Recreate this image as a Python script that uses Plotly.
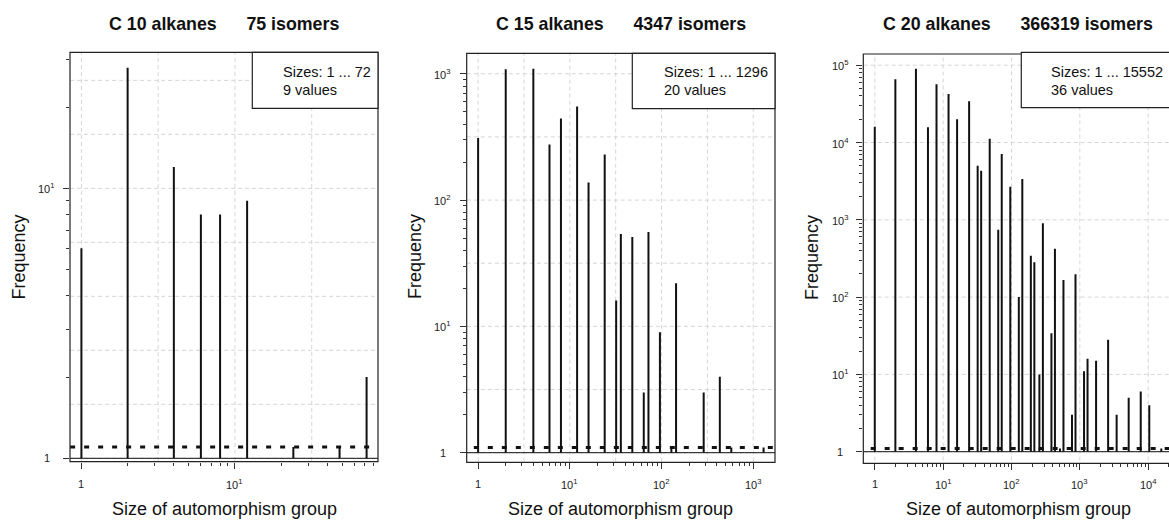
import math
import plotly.graph_objects as go

# ---------------- data ----------------
C10_SIZES = [1, 2, 4, 6, 8, 12, 24, 48, 72]
C10_FREQ = [6, 28, 12, 8, 8, 9, 1, 1, 2]

C15_SIZES = [1, 2, 4, 6, 8, 12, 16, 24, 32, 36, 48, 64, 72, 96, 128, 144, 288, 432, 576, 1296]
C15_FREQ = [310, 1084, 1096, 276, 442, 550, 138, 230, 16, 54, 51, 3, 56, 9, 1, 22, 3, 4, 1, 1]

C20_SIZES = [1, 2, 4, 6, 8, 12, 16, 24, 32, 36, 48, 64, 72, 96, 128, 144, 192, 216, 256, 288,
             384, 432, 512, 576, 768, 864, 1152, 1296, 1728, 2592, 3456, 5184, 7776, 10368, 15552]
C20_FREQ = [16000, 65700, 90100, 15700, 56600, 42400, 19950, 34100, 5010, 4320, 11200, 745, 7100,
            2680, 100, 3370, 343, 282, 10, 901, 34, 423, 1, 166, 3, 197, 11, 16, 15, 28, 3, 5, 6, 4, 1]

TITLES_LEFT = ["C 10 alkanes", "C 15 alkanes", "C 20 alkanes"]
TITLES_RIGHT = ["75 isomers", "4347 isomers", "366319 isomers"]
LEGEND_LINE1 = ["Sizes: 1 ... 72", "Sizes: 1 ... 1296", "Sizes: 1 ... 15552"]
LEGEND_LINE2 = ["9 values", "20 values", "36 values"]
XLABEL = "Size of automorphism group"
YLABEL = "Frequency"
BASELINE = 1.0
REFLINE = 1.1

W, H = 1169, 520
FONT = "Liberation Sans, Arial, sans-serif"

def px(x):
    return x / W

def py(y):
    return (H - y) / H

panels = [
    dict(sizes=C10_SIZES, freq=C10_FREQ, box=(70, 378, 52.3, 461.7),
         xr=(-0.0743, 1.9316), yr=(-0.0126, 1.504), ydec=(0, 1), xdec=(0, 1),
         xgrid=0.5, ygrid=0.2, ylab_x=18.5, ylab_y=257, ytl_x=46.5),
    dict(sizes=C15_SIZES, freq=C15_FREQ, box=(466.7, 775, 53.3, 462.3),
         xr=(-0.1245, 3.237), yr=(-0.076, 3.162), ydec=(0, 3), xdec=(0, 3),
         xgrid=0.5, ygrid=0.5, ylab_x=415, ylab_y=257, ytl_x=442.5),
    dict(sizes=C20_SIZES, freq=C20_FREQ, box=(863.3, 1172.8, 54, 463.3),
         xr=(-0.168, 4.36), yr=(-0.15, 5.145), ydec=(0, 5), xdec=(0, 4),
         xgrid=1.0, ygrid=1.0, ylab_x=812, ylab_y=258, ytl_x=840),
]

fig = go.Figure()
layout = dict(width=W, height=H, margin=dict(l=0, r=0, t=0, b=0),
              paper_bgcolor="white", plot_bgcolor="white", showlegend=False,
              font=dict(family=FONT, color="#111"))
shapes = []
annotations = []
TICKFONT = dict(size=11, color="#222", family=FONT)

def ticktext(d):
    return "1" if d == 0 else "10<sup>%d</sup>" % d

def minor_vals(lo, hi):
    vals = []
    for d in range(0, int(math.ceil(hi)) + 1):
        for m in range(2, 10):
            v = m * 10 ** d
            if lo <= math.log10(v) <= hi:
                vals.append(v)
    return vals

def grid_vals(lo, hi, step):
    vals = []
    k = math.ceil(lo / step - 1e-9)
    while k * step <= hi + 1e-9:
        vals.append(10 ** (k * step))
        k += 1
    return vals

NBSP = "\u00a0"

for i, p in enumerate(panels):
    n = "" if i == 0 else str(i + 1)
    xa, ya = "x" + n, "y" + n
    L, R, T, B = p["box"]
    xr0, xr1 = p["xr"]
    Rvis = min(R, W)
    xr1_vis = xr0 + (xr1 - xr0) * (Rvis - L) / (R - L)
    xdom = [px(L), px(Rvis)]
    ydom = [py(B), py(T)]

    # dashed light-grey grid
    gx, gy = [], []
    for v in grid_vals(xr0, xr1_vis, p["xgrid"]):
        gx += [v, v, None]
        gy += [1e-6, 1e9, None]
    for v in grid_vals(p["yr"][0], p["yr"][1], p["ygrid"]):
        gx += [1e-6, 1e9, None]
        gy += [v, v, None]
    fig.add_trace(go.Scatter(x=gx, y=gy, mode="lines", xaxis=xa, yaxis=ya,
                             line=dict(color="#d6d6d6", width=1, dash="4px,3px"),
                             hoverinfo="skip"))

    # reference lines
    fig.add_trace(go.Scatter(x=[1e-6, 1e9], y=[BASELINE, BASELINE], mode="lines",
                             xaxis=xa, yaxis=ya, line=dict(color="#111", width=1),
                             hoverinfo="skip"))
    fig.add_trace(go.Scatter(x=[1e-6, 1e9], y=[REFLINE, REFLINE], mode="lines",
                             xaxis=xa, yaxis=ya,
                             line=dict(color="#111", width=3, dash="5px,9px"),
                             hoverinfo="skip"))

    # spikes (R type = "h")
    sx, sy = [], []
    for s, f in zip(p["sizes"], p["freq"]):
        sx += [s, s, None]
        sy += [BASELINE, max(f, REFLINE), None]
    fig.add_trace(go.Scatter(x=sx, y=sy, mode="lines", xaxis=xa, yaxis=ya,
                             line=dict(color="#111", width=2), hoverinfo="skip"))

    xd = list(range(p["xdec"][0], p["xdec"][1] + 1))
    yd = list(range(p["ydec"][0], p["ydec"][1] + 1))
    axcommon = dict(type="log", showgrid=False, zeroline=False, showline=False,
                    ticks="outside", ticklen=6, tickwidth=1, tickcolor="#333",
                    showticklabels=False)
    layout["xaxis" + n] = dict(axcommon, domain=xdom, anchor=ya, range=[xr0, xr1_vis],
                               tickmode="array", tickvals=[10 ** d for d in xd],
                               minor=dict(tickmode="array", tickvals=minor_vals(xr0, xr1_vis),
                                          ticks="outside", ticklen=3, tickcolor="#333",
                                          showgrid=False))
    layout["yaxis" + n] = dict(axcommon, domain=ydom, anchor=xa, range=list(p["yr"]),
                               tickmode="array", tickvals=[10 ** d for d in yd],
                               minor=dict(tickmode="array", tickvals=minor_vals(*p["yr"]),
                                          ticks="outside", ticklen=3, tickcolor="#333",
                                          showgrid=False))

    # tick labels (R style: centred, horizontal)
    for d in xd:
        annotations.append(dict(xref=xa, yref="paper", x=d, y=py(483.5),
                                text=ticktext(d), showarrow=False, xanchor="center",
                                yanchor="middle", font=TICKFONT))
    for d in yd:
        annotations.append(dict(xref="paper", yref=ya, x=px(p["ytl_x"]), y=d,
                                text=ticktext(d), showarrow=False, xanchor="center",
                                yanchor="middle", font=TICKFONT))

    # plot frame
    shapes.append(dict(type="rect", xref="paper", yref="paper", x0=px(L), x1=px(R),
                       y0=py(B), y1=py(T), line=dict(color="#222", width=1.2),
                       fillcolor="rgba(0,0,0,0)", layer="above"))
    # legend box
    lg_left = [252.3, 632.3, 1021.3][i]
    lg_top = [52.3, 53.3, 52.3][i]
    lg_bot = [108.3, 108.7, 107.7][i]
    shapes.append(dict(type="rect", xref="paper", yref="paper", x0=px(lg_left), x1=px(R),
                       y0=py(lg_bot), y1=py(lg_top), line=dict(color="#222", width=1.2),
                       fillcolor="white", layer="above"))
    txt_x = [281, 661.7, 1049][i]
    annotations.append(dict(xref="paper", yref="paper", x=px(txt_x), y=py(72),
                            text=LEGEND_LINE1[i], showarrow=False, xanchor="left",
                            yanchor="middle", font=dict(size=14.5, color="#111")))
    annotations.append(dict(xref="paper", yref="paper", x=px(txt_x), y=py(90),
                            text=LEGEND_LINE2[i], showarrow=False, xanchor="left",
                            yanchor="middle", font=dict(size=14.5, color="#111")))
    # title, centred over the frame
    cx = (L + R) / 2
    annotations.append(dict(xref="paper", yref="paper", x=px(cx), y=py(24),
                            text="<b>%s%s%s</b>" % (TITLES_LEFT[i], NBSP * 6, TITLES_RIGHT[i]),
                            showarrow=False, xanchor="center", yanchor="middle",
                            font=dict(size=17.8, color="#111")))
    # axis titles
    annotations.append(dict(xref="paper", yref="paper", x=px(cx), y=py(509),
                            text=XLABEL, showarrow=False, xanchor="center",
                            yanchor="middle", font=dict(size=18, color="#111")))
    annotations.append(dict(xref="paper", yref="paper", x=px(p["ylab_x"]),
                            y=py(p["ylab_y"]), text=YLABEL, showarrow=False,
                            textangle=-90, xanchor="center", yanchor="middle",
                            font=dict(size=18, color="#111")))

layout["shapes"] = shapes
layout["annotations"] = annotations
fig.update_layout(**layout)
fig.write_html("out.html")
